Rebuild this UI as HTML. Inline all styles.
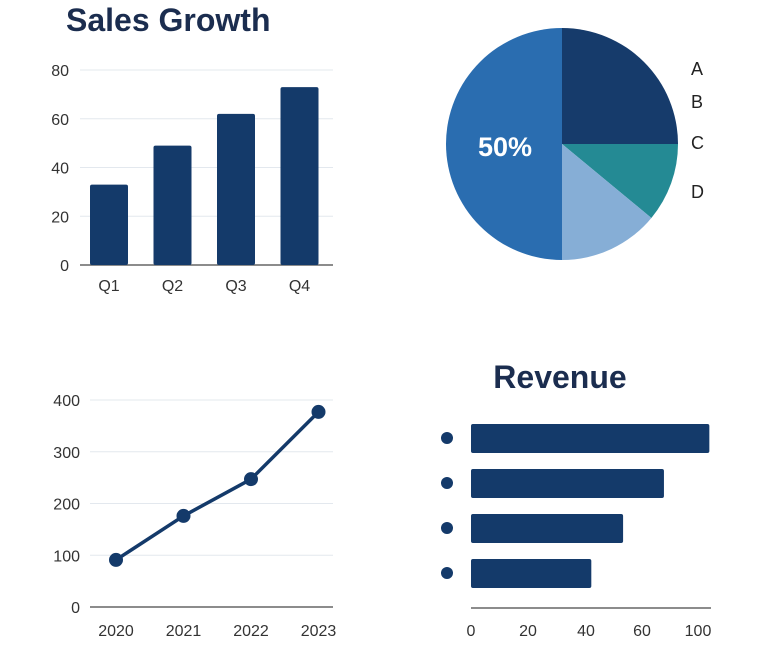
<!DOCTYPE html>
<html><head><meta charset="utf-8"><style>
body{margin:0;background:#fff;width:768px;height:660px;overflow:hidden;font-family:"Liberation Sans",sans-serif}
svg{display:block}
</style></head><body>
<svg width="768" height="660">
<text x="66" y="31" font-size="32" font-weight="bold" fill="#1b2d4f">Sales Growth</text>
<g id="bars"></g>
<g id="pie"></g>
<g id="line"></g>
<text x="560" y="388" font-size="32" font-weight="bold" fill="#1b2d4f" text-anchor="middle">Revenue</text>
<g id="hbars"></g>
</svg>
<script>
const NS="http://www.w3.org/2000/svg";
function mk(p,t,a,txt){const e=document.createElementNS(NS,t);for(const k in a)e.setAttribute(k,a[k]);if(txt!==undefined)e.textContent=txt;p.appendChild(e);return e;}
const NAVY="#143a6a";

const quarters=["Q1","Q2","Q3","Q4"];
const salesValues=[33,49,62,73];
const salesTicks=[0,20,40,60,80];
const pieLabels=["A","B","C","D"];
const pieValues=[25,11,14,50];
const years=["2020","2021","2022","2023"];
const lineValues=[91,176,247,377];
const lineTicks=[0,100,200,300,400];
const revenueValues=[105,85,67,53];
const revenueTicks=[0,20,40,60,100];

// bar chart
(function(){
const g=document.getElementById('bars');
const y=v=>265-v*195/80;
salesTicks.forEach(t=>{
 const l=mk(g,'line',{x1:80,x2:333,y1:y(t),y2:y(t),stroke:t?'#e3e8ee':'#666',"stroke-width":t?1:1.5});
 
 
 const tx=mk(g,'text',{x:69,y:y(t)+6,"font-size":16,fill:'#333',"text-anchor":'end'},t);
 
 
});
quarters.forEach((q,i)=>{
 const cx=109+i*63.5;
 const r=mk(g,'rect',{x:cx-19,y:y(salesValues[i]),width:38,height:y(0)-y(salesValues[i]),rx:2,fill:NAVY});
 
 
 const t=mk(g,'text',{x:cx,y:291,"font-size":16,fill:'#333',"text-anchor":'middle'},q);
 
 
});
})();

// pie
(function(){
const g=document.getElementById('pie');
const cx=562,cy=144,R=116;const cols=["#163b6b","#248a94","#86aed6","#2a6db0"];
const tot=pieValues.reduce((a,b)=>a+b,0);let a0=0;
pieValues.forEach((v,i)=>{
 const a1=a0+v/tot*2*Math.PI;
 const p=(a)=>[cx+R*Math.sin(a),cy-R*Math.cos(a)];
 const [x0,y0]=p(a0),[x1,y1]=p(a1);
 const s=mk(g,'path',{d:`M${cx},${cy}L${x0},${y0}A${R},${R} 0 ${a1-a0>Math.PI?1:0} 1 ${x1},${y1}Z`,fill:cols[i]});
 
 
 a0=a1;
});
const lt=mk(g,'text',{x:505,y:156,"font-size":27,"font-weight":"bold",fill:'#fff',"text-anchor":'middle'},pieValues[3]+'%');


const ly=[75,108,149,198];
pieLabels.forEach((l,i)=>{
 const t=mk(g,'text',{x:691,y:ly[i],"font-size":18,fill:'#222'},l);
 
 
});
})();

// line
(function(){
const g=document.getElementById('line');
const y=v=>607-v*207/400;const xs=i=>116+i*67.5;
lineTicks.forEach(t=>{
 const l=mk(g,'line',{x1:90,x2:333,y1:y(t),y2:y(t),stroke:t?'#e3e8ee':'#666',"stroke-width":t?1:1.5});
 
 
 const tx=mk(g,'text',{x:80,y:y(t)+6,"font-size":16,fill:'#333',"text-anchor":'end'},t);
 
 
});
const pl=mk(g,'polyline',{points:lineValues.map((v,i)=>xs(i)+','+y(v)).join(' '),fill:'none',stroke:NAVY,"stroke-width":3.5,"stroke-linejoin":'round'});


years.forEach((yr,i)=>{
 const c=mk(g,'circle',{cx:xs(i),cy:y(lineValues[i]),r:7,fill:NAVY});
 
 
 const t=mk(g,'text',{x:xs(i),y:636,"font-size":16,fill:'#333',"text-anchor":'middle'},yr);
 
 
});
})();

// horizontal bars
(function(){
const g=document.getElementById('hbars');
const x=v=>471+v*2.27;
const ax=mk(g,'line',{x1:471,x2:711,y1:608,y2:608,stroke:'#666',"stroke-width":1.5});


revenueTicks.forEach((t,i)=>{
 const tx=mk(g,'text',{x:[471,528,586,642,698][i],y:636,"font-size":16,fill:'#333',"text-anchor":'middle'},t);
 
 
});
revenueValues.forEach((v,i)=>{
 const yy=424+i*45;
 const r=mk(g,'rect',{x:471,y:yy,width:x(v)-471,height:29,rx:2,fill:NAVY});
 
 
 const c=mk(g,'circle',{cx:447,cy:yy+14,r:6,fill:NAVY});
 
 
});
})();
</script>
</body></html>
